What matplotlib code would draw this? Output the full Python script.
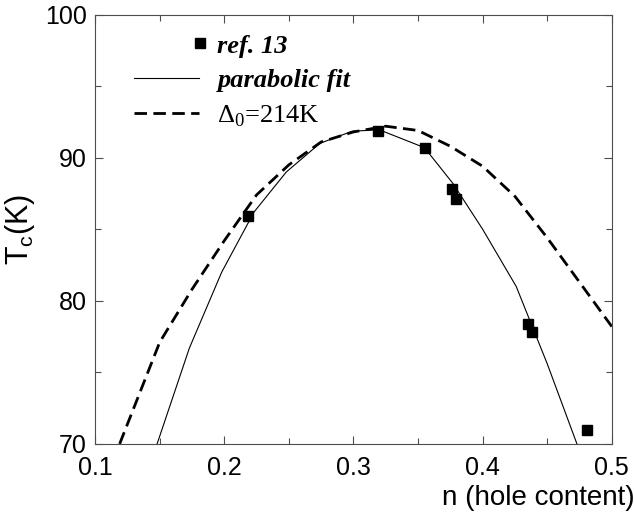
import matplotlib
matplotlib.use('Agg')
import matplotlib.pyplot as plt
from matplotlib.legend_handler import HandlerLine2D
from matplotlib.ticker import MultipleLocator

# data points (ref. 13)
n_ref = [0.218, 0.319, 0.355, 0.376, 0.379, 0.435, 0.438, 0.481]
tc_ref = [85.9, 91.9, 90.65, 87.8, 87.1, 78.4, 77.8, 71.0]

# parabolic fit
n_fit = [0.148, 0.173, 0.198, 0.223, 0.248, 0.274, 0.299, 0.320, 0.355, 0.377, 0.400, 0.426, 0.450, 0.473]
tc_fit = [70.0, 76.7, 82.0, 86.2, 89.0, 91.0, 91.85, 91.95, 90.7, 88.2, 85.0, 81.0, 75.6, 70.0]

# Delta_0 = 214K curve
n_gap = [0.119, 0.150, 0.175, 0.200, 0.225, 0.250, 0.275, 0.300, 0.325, 0.350, 0.375, 0.400, 0.425, 0.450, 0.475, 0.500]
tc_gap = [70.0, 77.1, 80.8, 84.2, 87.4, 89.5, 91.1, 91.8, 92.2, 91.9, 90.8, 89.4, 87.3, 84.4, 81.3, 78.2]


class RightMarker(HandlerLine2D):
    # single legend marker sitting next to the text, like the original
    def get_xdata(self, legend, xdescent, ydescent, width, height, fontsize):
        x = -xdescent + width + 0.05 * fontsize
        return [x], [x]


fig = plt.figure(figsize=(6.34, 5.21), dpi=100)
ax = fig.add_axes([0.150, 0.148, 0.815, 0.824])

pts, = ax.plot(n_ref, tc_ref, 's', color='black', ms=7.5, label='ref. 13', zorder=3)
fit, = ax.plot(n_fit, tc_fit, '-', color='black', lw=0.8, label='parabolic fit')
gap, = ax.plot(n_gap, tc_gap, color='black', lw=2, linestyle=(0, (4.5, 2.3)),
               label=r'Δ$_\mathregular{0}$=214K')

ax.set_xlim(0.1, 0.5)
ax.set_ylim(70, 100)
ax.xaxis.set_major_locator(MultipleLocator(0.1))
ax.xaxis.set_minor_locator(MultipleLocator(0.05))
ax.yaxis.set_major_locator(MultipleLocator(10))
ax.yaxis.set_minor_locator(MultipleLocator(5))
ax.tick_params(which='both', direction='in', top=True, right=True, labelsize=18,
               color='0.3', width=0.8)
ax.tick_params(which='major', length=6)
ax.tick_params(axis='x', which='major', pad=9)
ax.tick_params(axis='y', which='major', pad=6)
ax.tick_params(which='minor', length=4)
for lab in ax.get_xticklabels() + ax.get_yticklabels():
    lab.set_fontfamily('Liberation Sans')
for s in ax.spines.values():
    s.set_linewidth(0.8)
    s.set_color('0.3')

ax.set_ylabel(r'T$_\mathregular{c}$(K)', fontsize=22, family='Liberation Sans', labelpad=6)
ax.set_xlabel('n (hole content)', fontsize=20, family='Liberation Sans', ha='right')
ax.xaxis.set_label_coords(1.045, -0.095)

leg = ax.legend(handles=[pts, fit, gap], loc='upper left', bbox_to_anchor=(0.03, 1.01),
                frameon=False, handlelength=2.45, handletextpad=0.7, labelspacing=0.42,
                prop={'family': 'Liberation Serif', 'size': 19},
                handler_map={pts: RightMarker(numpoints=2)})
texts = leg.get_texts()
texts[0].set_fontweight('bold')
texts[0].set_fontstyle('italic')
texts[1].set_fontweight('bold')
texts[1].set_fontstyle('italic')

fig.savefig('out.png', dpi=100)
